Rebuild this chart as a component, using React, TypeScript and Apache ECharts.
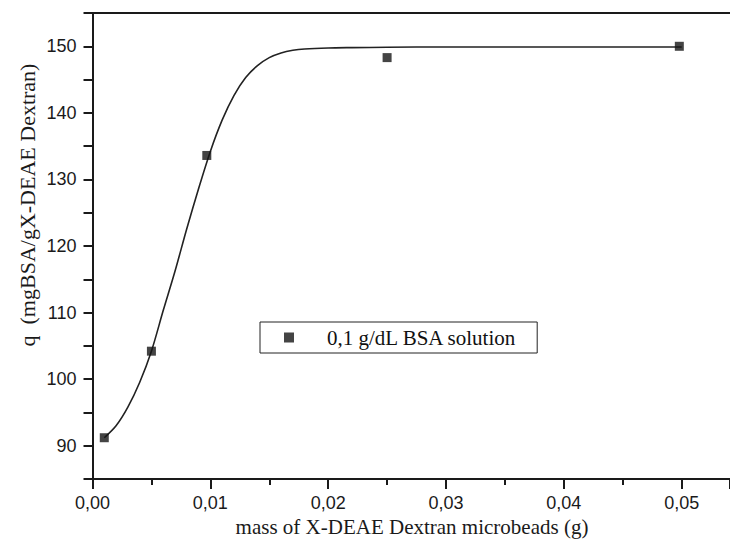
import React, { useEffect, useRef } from "react";
import * as echarts from "echarts";

// measured points
const massX = [0.001, 0.005, 0.0097, 0.025, 0.0498];
const qValues = [91.2, 104.2, 133.6, 148.3, 150.0];

// fitted curve
const fitX = [0.001, 0.002, 0.003, 0.004, 0.005, 0.006, 0.007, 0.008, 0.009, 0.010, 0.011, 0.012, 0.013, 0.014, 0.015, 0.016, 0.017, 0.018, 0.020, 0.022, 0.025, 0.030, 0.040, 0.050];
const fitY = [91.2, 93.0, 95.8, 99.5, 104.2, 110.3, 116.2, 122.6, 128.6, 134.2, 138.9, 142.6, 145.3, 147.1, 148.3, 149.0, 149.4, 149.6, 149.75, 149.8, 149.85, 149.9, 149.9, 149.9];

const seriesName = "0,1 g/dL BSA solution";
const xTitle = "mass of X-DEAE Dextran microbeads (g)";
const yTitle = "q  (mgBSA/gX-DEAE Dextran)";

export default function App() {
  const ref = useRef<HTMLDivElement>(null);
  useEffect(() => {
    if (!ref.current) return;
    const chart = echarts.init(ref.current, null, { renderer: "svg" });
    const axisColor = "#1a1a1a";
    const tickFont = { fontFamily: "Liberation Sans", fontSize: 18, color: "#1a1a1a" };
    chart.setOption({
      animation: false,
      backgroundColor: "#ffffff",
      grid: { left: 92.5, top: 13, right: 0, bottom: 67, containLabel: false },
      xAxis: [
        {
          type: "value",
          min: 0,
          max: 0.0541,
          interval: 0.01,
          axisLine: { show: true, lineStyle: { color: axisColor, width: 2 } },
          axisTick: { show: true, inside: false, length: 10, lineStyle: { color: axisColor, width: 2 } },
          minorTick: { show: true, splitNumber: 2, length: 6, lineStyle: { color: axisColor, width: 2 } },
          splitLine: { show: false },
          axisLabel: {
            ...tickFont,
            margin: 15,
            showMaxLabel: false,
            formatter: (v: number) => v.toFixed(2).replace(".", ","),
          },
        },
        {
          type: "value",
          position: "top",
          min: 0,
          max: 0.0541,
          axisLine: { show: true, onZero: false, lineStyle: { color: axisColor, width: 2 } },
          axisTick: { show: false },
          axisLabel: { show: false },
          splitLine: { show: false },
        },
      ],
      yAxis: {
        type: "value",
        min: 85,
        max: 155,
        interval: 5,
        axisLine: { show: true, lineStyle: { color: axisColor, width: 2 } },
        axisTick: { show: true, length: 9, lineStyle: { color: axisColor, width: 2 } },
        splitLine: { show: false },
        axisLabel: {
          ...tickFont,
          margin: 16,
          formatter: (v: number) => (v % 10 === 0 ? String(v) : ""),
        },
      },
      legend: {
        show: true,
        left: 260,
        top: 322,
        orient: "horizontal",
        padding: [5, 20, 5, 24],
        borderColor: "#222",
        borderWidth: 1,
        itemWidth: 10,
        itemHeight: 10,
        data: [{ name: seriesName, icon: "rect" }],
        textStyle: { fontFamily: "Liberation Serif", fontSize: 21, color: "#111", padding: [0, 0, 0, 28] },
      },
      graphic: [
        {
          type: "text",
          x: 27,
          y: 205,
          rotation: Math.PI / 2,
          style: {
            text: yTitle,
            fontFamily: "Liberation Serif",
            fontSize: 22,
            fill: "#1a1a1a",
            align: "center",
            verticalAlign: "middle",
          },
        },
        {
          type: "text",
          x: 412,
          y: 527,
          style: {
            text: xTitle,
            fontFamily: "Liberation Serif",
            fontSize: 21,
            fill: "#1a1a1a",
            align: "center",
            verticalAlign: "middle",
          },
        },
      ],
      series: [
        {
          type: "line",
          name: "fit",
          data: fitX.map((x, i) => [x, fitY[i]]),
          smooth: 0.3,
          showSymbol: false,
          symbol: "none",
          lineStyle: { color: "#222", width: 1.6 },
          silent: true,
          z: 2,
        },
        {
          type: "scatter",
          name: seriesName,
          data: massX.map((x, i) => [x, qValues[i]]),
          symbol: "rect",
          symbolSize: 9,
          itemStyle: { color: "#151515" },
          z: 3,
        },
      ],
    });
    return () => chart.dispose();
  }, []);
  return <div ref={ref} style={{ width: 730, height: 546, position: "absolute", left: 0, top: 0 }} />;
}
